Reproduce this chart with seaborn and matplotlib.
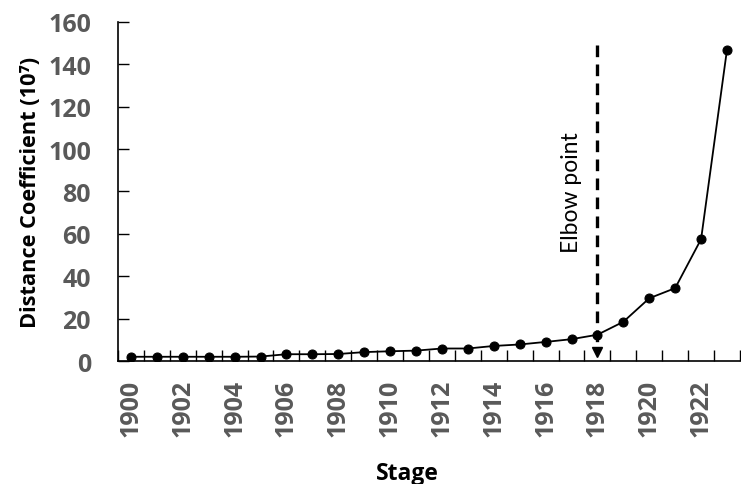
import numpy as np
import pandas as pd
import matplotlib
matplotlib.use("Agg")
import matplotlib.pyplot as plt
import seaborn as sns

# ---- data ----
stages = [1900, 1901, 1902, 1903, 1904, 1905, 1906, 1907, 1908, 1909, 1910, 1911,
          1912, 1913, 1914, 1915, 1916, 1917, 1918, 1919, 1920, 1921, 1922, 1923]
distance = [2.0, 2.0, 2.0, 2.0, 2.0, 2.1, 3.2, 3.2, 3.3, 4.2, 4.6, 4.9,
            5.9, 5.9, 7.1, 7.8, 9.0, 10.3, 12.4, 18.5, 29.6, 34.4, 57.5, 147.0]
x_tick_labels = [str(y) for y in stages[::2]]
y_ticks = [0, 20, 40, 60, 80, 100, 120, 140, 160]
elbow_stage = 1918
elbow_label = "Elbow point"

sns.set_style("white")
plt.rcParams['font.family'] = ['Open Sans', 'DejaVu Sans']

df = pd.DataFrame({"Stage": stages, "Distance": distance})

fig = plt.figure(figsize=(7.41, 4.85), dpi=100)
ax = fig.add_axes([0.1592, 0.2536, 0.8394, 0.699])

sns.lineplot(data=df, x="Stage", y="Distance", ax=ax, color="black",
             marker="o", markersize=6.5, markeredgecolor="black",
             linewidth=1.3)

ax.set_xlim(stages[0] - 0.5, stages[-1] + 0.35)
ax.set_ylim(y_ticks[0], y_ticks[-1])

ax.set_xticks(stages[::2])
ax.set_xticklabels(x_tick_labels, rotation=90)
ax.set_xticks(np.arange(stages[0] - 0.5, stages[-1] + 1, 1), minor=True)
ax.set_yticks(y_ticks)
ax.set_yticklabels([str(v) for v in y_ticks])

ax.tick_params(axis="x", which="major", length=0, pad=13,
               labelsize=18, labelcolor="#595959")
ax.tick_params(axis="x", which="minor", direction="in", length=8,
               width=1, color="black", bottom=True)
ax.tick_params(axis="y", which="major", direction="in", length=8, width=1,
               color="black", pad=19.5, labelsize=18, labelcolor="#595959", left=True)
for lab in ax.get_xticklabels() + ax.get_yticklabels():
    lab.set_fontweight("bold")

for s in ["top", "right"]:
    ax.spines[s].set_visible(False)
for s in ["left", "bottom"]:
    ax.spines[s].set_color("black")
    ax.spines[s].set_linewidth(1.2)

ax.set_xlabel("Stage", fontsize=16.5, fontweight="bold", color="black")
ax.xaxis.set_label_coords(0.466, -0.295)
ax.set_ylabel("Distance Coefficient (10\u2077)", fontsize=15.7, fontweight="bold",
              color="black", labelpad=5)

# elbow annotation
ax.plot([elbow_stage, elbow_stage], [149, 6], color="black", lw=2.4,
        linestyle=(0, (3.5, 2.2)))
ax.plot([elbow_stage], [4.2], marker="v", color="black", markersize=7)
ax.text(elbow_stage - 1.0, 80, elbow_label, rotation=90, ha="center",
        va="center", fontsize=16.5, color="black", family=["Lato", "DejaVu Sans"])

fig.savefig("out.png", dpi=100)
